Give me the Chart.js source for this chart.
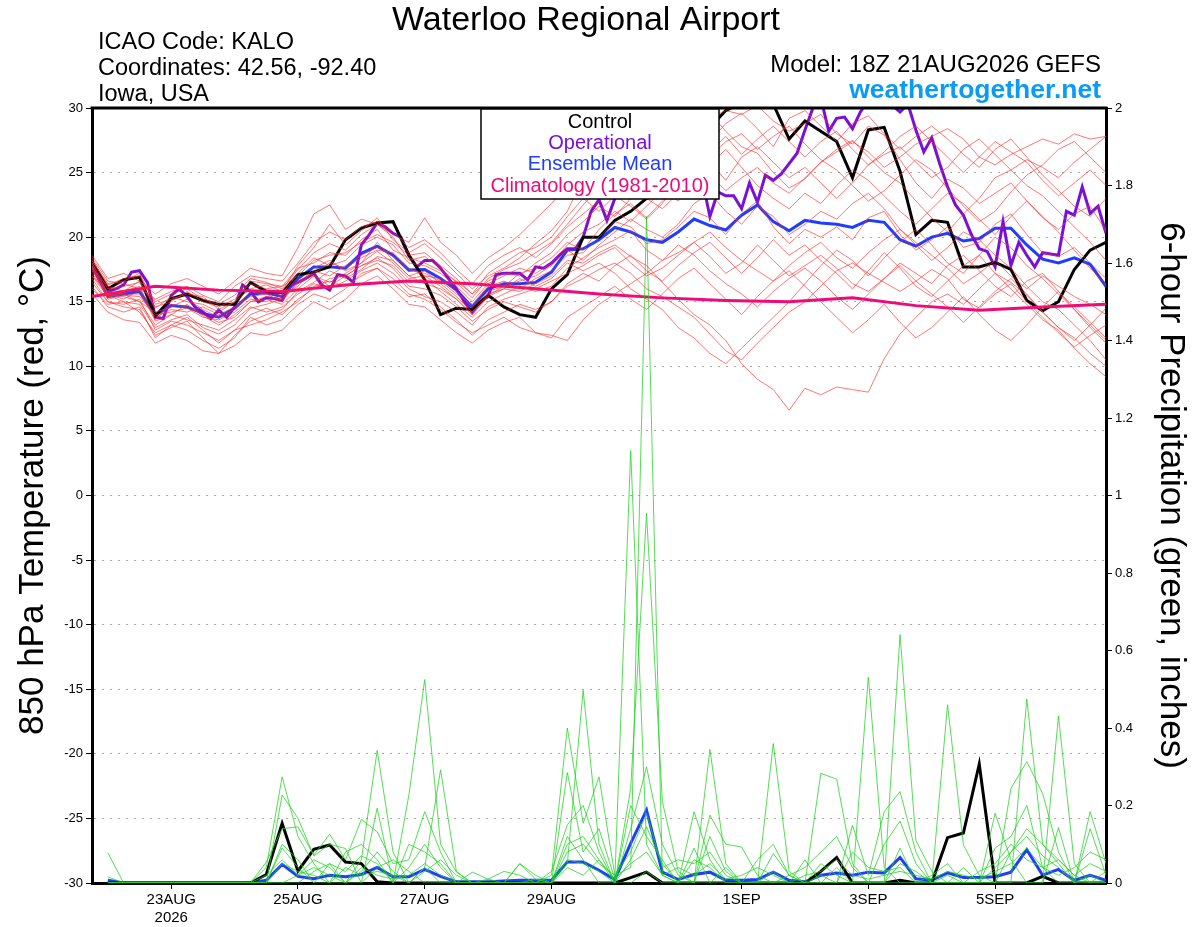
<!DOCTYPE html>
<html lang="en">
<head>
<meta charset="UTF-8"/>
<title>Waterloo Regional Airport</title>
<script src="https://cdn.jsdelivr.net/npm/chart.js"></script>
<style>
  html, body { margin: 0; padding: 0; background: #fff; overflow: hidden; }
  canvas { display: block; }
</style>
</head>
<body>
<canvas id="plume" width="1200" height="927"></canvas>
<script>
// forecast hours after 18Z 21AUG2026 (6-hourly ensemble output)
const hours = [0,6,12,18,24,30,36,42,48,54,60,66,72,78,84,90,96,102,108,114,120,126,132,138,144,
  150,156,162,168,174,180,186,192,198,204,210,216,222,228,234,240,246,252,258,264,270,276,282,288,
  294,300,306,312,318,324,330,336,342,348,354,360,366,372,378,384];

const tickHours = [30, 78, 126, 174, 246, 294, 342];
const tickLabels = [['23AUG', '2026'], '25AUG', '27AUG', '29AUG', '1SEP', '3SEP', '5SEP'];

// 850 hPa temperature, ensemble members (deg C)
const memberTemps = [
  [18.2,16.3,16.8,17.0,15.0,15.6,16.0,15.2,14.8,15.5,16.8,16.5,16.0,
   17.5,18.8,19.5,19.0,20.2,21.0,20.0,18.2,18.5,17.6,16.5,15.3,
   16.8,17.5,18.0,18.8,19.6,21.0,22.5,23.8,24.5,25.2,26.0,26.8,27.5,28.4,29.2,29.8,29.5,30.2,29.0,28.2,
   28.8,29.5,28.0,27.2,28.6,27.9,26.0,24.2,23.0,24.5,23.8,22.6,23.4,24.2,22.8,21.5,20.6,21.8,22.4,20.5],
  [16.5,15.0,14.8,15.2,12.8,13.5,13.2,12.6,12.0,12.8,14.0,14.5,14.0,
   15.2,16.0,16.8,17.0,17.8,18.4,17.6,16.2,16.0,15.5,14.6,13.5,
   14.4,15.0,14.6,14.2,15.0,16.2,16.8,17.5,18.0,17.2,16.0,15.4,14.6,13.8,12.5,11.2,10.5,11.8,13.0,14.2,
   15.0,16.2,17.4,18.0,17.2,16.5,15.8,16.6,17.5,16.8,15.2,14.5,15.6,16.4,15.0,13.8,12.6,11.5,12.4,13.2],
  [17.4,15.6,15.2,15.9,13.5,14.0,14.8,13.9,13.2,14.0,15.0,15.2,14.8,
   16.0,17.0,16.5,17.2,18.0,18.9,18.0,16.8,17.0,16.2,15.2,14.0,
   15.4,16.0,15.8,16.4,17.0,18.2,18.0,18.8,19.4,18.5,17.8,16.5,15.2,14.0,13.2,12.0,10.2,9.0,8.2,6.6,
   8.3,7.8,8.4,8.2,8.0,10.6,12.5,13.8,15.0,15.6,14.8,16.0,17.2,16.5,15.5,14.2,13.0,12.0,13.2,14.5],
  [18.0,16.0,16.2,16.5,14.5,15.4,15.0,14.8,14.2,15.0,16.0,16.3,15.8,
   17.8,19.2,21.0,19.4,20.5,21.5,19.8,18.8,19.5,18.4,17.2,16.0,
   17.0,17.6,18.4,19.5,20.5,22.0,24.6,23.5,24.8,25.5,24.0,25.8,27.0,28.8,29.6,28.2,27.0,26.5,25.0,23.8,
   24.5,25.8,26.8,27.5,26.2,25.0,24.2,22.8,21.5,20.4,21.8,23.0,24.6,25.2,24.0,23.2,22.0,20.8,19.6,18.2],
  [17.6,15.2,15.5,15.4,14.0,14.2,14.5,13.8,13.6,14.2,15.2,15.0,15.5,
   16.2,17.4,17.0,17.8,18.6,19.2,18.5,17.5,17.2,16.6,15.6,14.8,
   16.2,16.6,16.0,16.8,17.4,18.6,18.8,20.0,21.2,20.8,19.5,19.8,20.8,22.0,21.5,20.2,21.8,22.8,20.8,19.5,
   20.6,20.0,20.8,19.8,21.5,22.0,20.2,19.0,19.8,20.8,19.2,19.6,21.0,21.8,20.2,18.8,18.5,19.2,18.0,16.8],
  [16.8,15.0,14.6,14.4,12.4,13.0,13.5,12.2,11.0,12.4,13.5,14.0,14.4,
   15.8,16.5,17.4,16.8,17.5,18.5,18.2,17.0,16.4,16.0,15.2,14.0,
   15.5,16.2,17.2,17.6,18.4,19.6,19.0,20.6,21.8,22.6,21.5,22.8,24.0,25.5,26.2,27.4,28.0,26.8,27.8,28.6,
   27.2,26.0,25.2,24.0,22.8,23.6,24.8,26.0,25.2,23.8,22.4,21.2,22.0,23.5,24.8,25.6,26.8,27.4,26.2,25.0],
  [17.2,15.5,15.0,14.8,13.0,13.6,14.0,13.0,12.5,13.2,14.5,14.8,15.2,
   16.5,17.0,16.2,17.0,17.8,18.2,17.8,16.5,16.8,15.8,14.8,13.8,
   15.0,15.6,16.2,15.8,16.2,17.6,18.4,19.2,19.8,20.5,19.0,18.2,18.8,19.6,18.5,17.2,18.0,19.4,18.2,17.0,
   17.8,18.6,17.6,16.4,15.8,16.8,18.0,17.2,16.4,17.8,18.6,17.4,16.2,15.4,16.6,17.2,15.8,14.6,13.4,12.2],
  [18.4,16.6,16.4,16.0,15.2,15.8,16.2,15.5,15.0,16.2,17.0,16.8,16.6,
   18.0,19.6,20.4,19.8,20.8,21.2,20.4,19.2,19.8,18.8,17.5,16.4,
   17.8,18.6,19.2,18.4,19.5,20.8,21.8,22.8,23.6,24.4,23.0,22.2,23.4,24.6,25.8,24.4,26.2,27.0,25.8,24.6,
   25.4,24.2,23.0,24.2,25.6,26.4,27.0,25.8,24.6,25.4,26.8,27.6,26.4,25.2,26.0,25.4,24.6,25.8,26.8,27.8],
  [17.0,15.8,15.6,15.6,13.8,14.4,14.2,14.6,14.0,14.6,15.4,15.6,15.0,
   16.6,17.2,18.0,17.6,18.4,19.0,18.8,17.6,17.0,16.8,15.8,14.6,
   15.8,16.2,16.6,17.0,17.8,19.0,18.2,19.4,20.4,21.4,20.6,20.0,21.0,22.6,23.4,22.0,21.0,22.4,21.6,20.2,
   21.0,22.0,21.4,22.6,23.4,22.2,20.6,19.4,18.2,19.2,20.4,19.8,18.6,17.6,16.2,15.0,14.4,13.2,12.0,10.5],
  [17.8,15.3,15.8,16.2,13.6,14.8,14.6,14.0,13.4,13.8,15.0,15.4,15.2,
   16.4,17.6,18.2,17.4,18.0,19.6,18.2,17.0,17.4,16.4,15.4,14.2,
   15.6,16.0,16.8,16.2,16.8,18.0,17.4,18.0,17.2,16.0,15.2,14.4,13.0,12.2,11.0,10.2,11.4,12.6,13.8,15.0,
   16.4,17.8,19.0,18.2,17.0,18.4,19.6,20.6,19.4,18.0,17.2,18.6,20.0,19.2,17.8,16.8,15.6,14.4,13.0,11.8],
  [18.0,15.6,15.4,15.0,14.2,14.6,15.2,14.4,13.8,14.4,15.8,15.6,15.6,
   17.2,18.4,17.8,18.2,19.4,20.0,19.4,18.0,17.8,17.2,16.2,15.0,
   16.4,17.0,17.6,17.2,18.0,19.4,20.4,21.0,22.0,21.2,22.4,23.6,22.8,24.0,24.8,23.6,24.6,25.4,24.2,23.4,
   24.6,25.8,26.6,27.4,26.6,25.4,26.2,27.2,27.8,28.4,27.6,26.2,25.6,26.4,27.0,27.6,27.2,28.0,27.6,27.8],
  [16.2,14.6,14.2,14.6,12.2,13.2,12.8,12.0,11.4,12.2,13.8,13.2,13.6,
   14.8,15.6,15.2,16.0,17.2,17.6,16.4,15.4,15.6,14.6,13.6,12.4,
   13.6,14.2,14.8,14.4,15.0,16.4,17.2,16.6,17.8,18.6,17.4,16.6,17.8,18.8,19.6,18.4,17.2,18.4,19.8,18.6,
   19.4,18.2,17.2,16.0,17.4,18.8,17.6,16.2,15.4,16.6,17.8,18.6,17.2,16.0,14.8,13.6,12.8,11.4,10.2,9.2],
  [18.6,16.8,17.2,16.6,15.6,16.4,16.8,16.2,15.6,16.6,17.6,17.2,17.0,
   19.2,21.8,22.5,20.6,21.4,21.0,20.2,19.6,21.5,19.6,18.6,17.2,
   18.4,19.2,20.2,21.4,22.6,24.0,25.0,24.2,25.8,26.8,27.6,28.4,27.2,26.0,27.4,28.8,29.6,28.4,27.0,29.2,
   29.8,28.6,27.4,28.8,29.4,28.0,26.8,27.8,28.6,27.6,26.4,25.4,26.8,27.6,26.2,24.8,23.6,22.4,21.6,23.0],
  [15.6,14.2,13.6,13.4,11.8,12.4,12.0,11.2,11.0,11.6,12.6,12.4,12.8,
   14.0,15.0,14.4,15.2,16.4,17.0,16.0,14.8,14.6,13.6,12.6,11.8,
   12.8,13.4,13.8,12.6,12.2,13.8,14.6,15.4,16.2,15.2,14.4,15.6,16.8,17.6,16.4,15.2,14.0,15.4,16.6,17.4,
   16.2,15.0,13.8,12.6,13.6,14.8,13.4,12.2,13.0,14.2,15.4,14.0,12.8,12.0,13.2,14.6,15.8,14.4,13.2,12.0],
  [17.6,16.2,15.8,16.6,14.6,15.0,15.8,15.0,14.6,15.2,16.4,16.0,16.2,
   17.6,18.0,18.8,18.6,19.8,20.6,19.0,18.4,18.0,17.4,16.6,15.6,
   16.6,17.2,17.0,18.0,18.8,20.2,21.2,22.4,21.6,23.0,24.2,23.4,25.2,26.4,25.6,26.8,25.4,24.0,23.0,22.2,
   23.4,22.6,24.0,25.2,24.4,23.2,22.0,21.0,22.2,23.4,22.6,21.4,20.2,21.6,22.8,21.6,20.4,19.0,17.6,16.4],
  [17.0,15.4,15.6,15.0,13.2,14.0,13.6,13.2,12.8,13.6,14.6,14.2,14.6,
   15.6,16.4,16.0,16.6,17.4,18.0,17.2,16.0,15.4,15.0,14.2,13.2,
   14.6,15.2,15.6,16.0,16.6,17.2,17.8,18.6,19.2,18.0,17.0,17.6,18.6,19.6,20.4,19.2,18.2,17.4,16.6,17.8,
   18.8,19.6,18.4,17.6,18.8,19.8,20.6,19.6,18.6,17.6,16.4,17.2,18.2,17.0,16.0,17.0,16.2,15.4,14.8,14.0],
  [18.2,16.4,16.6,17.2,14.8,15.2,15.6,15.4,14.4,15.0,16.6,16.4,16.2,
   17.0,18.2,18.6,18.8,19.6,20.2,19.6,18.6,18.8,17.8,16.8,15.6,
   17.2,18.0,18.8,19.2,20.0,21.6,23.0,22.0,23.2,22.4,21.4,22.6,24.4,25.0,26.6,27.8,26.4,27.6,28.6,27.4,
   26.2,27.4,28.2,26.8,25.6,26.6,27.8,28.6,27.4,26.2,25.0,26.2,27.4,26.6,25.8,24.4,23.2,24.2,25.2,24.0],
  [16.0,14.8,15.0,14.2,12.6,13.2,13.8,12.8,11.8,12.8,13.2,13.6,14.2,
   15.0,16.2,16.6,16.2,17.0,17.6,16.8,15.6,15.2,14.4,13.4,12.6,
   13.2,13.8,13.0,12.6,12.4,12.0,13.6,14.8,15.6,16.4,17.2,18.2,19.4,18.6,17.4,16.4,15.6,14.6,15.8,16.8,
   17.6,16.6,15.4,14.4,15.6,16.8,17.8,16.6,15.6,14.6,13.4,14.6,15.8,16.8,15.6,14.2,13.0,12.2,11.0,10.0]
];

// 6-hour precipitation, ensemble members (inches); no value at hour 0
const memberPrecip = [
  [null,0.078,0,0,0,0,0,0,0,0, 0,0.04,0.274,0.12,0.05,0,0,0.06,0.342,0.08,
   0,0.04,0.292,0.03,0,0,0,0,0,0, 0.05,0.497,0.1,0,0,0.03,0,0,0,0.345,
   0.05,0,0,0,0,0,0.02,0,0,0.531, 0.04,0,0,0,0,0,0,0,0,0.475, 0.1,0.05,0,0,0],
  [null,0.016,0,0,0,0,0,0,0,0, 0,0,0.227,0.167,0.07,0.1,0.089,0,0.193,0,
   0.227,0.525,0.1,0.028,0,0,0,0,0,0.02, 0.40,0.154,0.274,0.02,0.04,1.72,0.02,0,0,0,
   0,0,0,0.36,0.03,0,0,0,0,0, 0,0.641,0.11,0.03,0,0,0,0,0,0, 0,0.431,0.05,0,0],
  [null,0,0,0,0,0,0,0,0,0, 0,0.054,0.14,0.145,0.072,0.126,0.06,0.164,0.132,0.05,
   0.06,0.184,0.08,0,0,0,0,0,0,0, 0.285,0.08,0.14,0.01,1.116,0.1,0.02,0,0.184,0.06,
   0,0,0,0,0,0,0.283,0.268,0.05,0, 0,0,0,0,0.46,0.098,0.02,0,0.244,0.313, 0.231,0.08,0,0,0],
  [null,0,0,0,0,0,0,0,0,0, 0,0,0.09,0.04,0,0.05,0.03,0.07,0.05,0,
   0.1,0.08,0.05,0,0,0,0,0.05,0.01,0, 0.1,0.12,0.06,0,0.244,0.954,0.21,0.03,0,0.175,
   0.1,0.093,0.02,0,0,0.06,0,0,0.149,0.02, 0.184,0.236,0.08,0,0,0,0,0.18,0.06,0, 0,0.143,0,0.184,0.05],
  [null,0,0,0,0,0,0,0,0,0, 0,0,0.05,0.03,0.02,0,0.04,0.02,0.03,0.02,
   0,0.04,0,0,0.028,0.01,0,0.05,0.02,0, 0.06,0.05,0.03,0,0.06,0.145,0.05,0,0.06,0.04,
   0,0,0,0.076,0.02,0,0,0.04,0,0, 0.1,0.16,0.05,0,0,0.04,0,0.09,0.12,0.2, 0.04,0,0,0.14,0.02],
  [null,0,0,0,0,0,0,0,0,0, 0,0,0,0.02,0.06,0.04,0,0.03,0.08,0.03,
   0,0.03,0.06,0.02,0,0,0,0,0,0.03, 0.15,0.2,0.08,0,0.14,0.3,0.1,0.02,0,0.12,
   0.03,0,0,0,0.02,0.04,0.08,0.12,0.04,0, 0,0.09,0,0.02,0.05,0,0,0,0.08,0.14, 0.1,0.06,0.02,0,0.03],
  [null,0,0,0,0,0,0,0,0,0, 0,0,0.1,0.06,0,0,0.08,0.1,0.06,0,
   0.04,0.1,0.04,0,0,0,0,0,0,0, 0.12,0.06,0,0,0.2,0.12,0.06,0,0.09,0,
   0.04,0,0.06,0.1,0.02,0,0,0,0.08,0.04, 0.03,0.04,0,0,0.02,0,0.03,0.05,0.1,0.06, 0.04,0.02,0.04,0.08,0.06],
  [null,0,0,0,0,0,0,0,0,0, 0,0,0,0,0.03,0.05,0,0,0.04,0.06,
   0.03,0,0,0,0,0.01,0.03,0.02,0,0, 0.08,0.1,0.05,0.02,0.08,0.18,0.04,0.06,0.05,0.08,
   0.02,0,0,0.03,0,0,0.05,0.02,0,0, 0,0.05,0.03,0,0,0,0,0.04,0.08,0.12, 0.07,0.04,0,0.02,0],
  [null,0,0,0,0,0,0,0,0,0, 0,0.02,0.06,0.02,0.04,0.02,0,0.04,0.02,0.01,
   0.02,0.05,0.02,0,0,0,0,0,0.01,0, 0.04,0.02,0.06,0.01,0.05,0.08,0.02,0.04,0.02,0.05,
   0.01,0.02,0.04,0.02,0,0.02,0.03,0.06,0.02,0.01, 0.02,0.03,0.02,0.01,0.03,0.02,0.01,0.03,0.05,0.09, 0.04,0.06,0.02,0.05,0.03]
];

// control run
const controlTemp = [18.1,16.0,16.7,16.9,13.9,15.25,15.6,15.1,14.8,14.8,16.5,15.8,15.7,17.1,17.3,17.7,
  19.8,20.7,21.1,21.2,18.6,16.7,14.0,14.5,14.4,15.5,14.6,14.0,13.8,16.0,17.1,20.0,20.0,21.3,22.0,23.0,
  24.0,25.0,26.5,28.5,29.8,30.4,30.8,30.3,27.6,29.0,28.2,27.4,24.6,28.3,28.5,25.1,20.2,21.3,21.15,17.7,
  17.7,18.05,17.5,15.1,14.3,15.0,17.5,19.0,19.6];
const controlPrecip = [null,0,0,0,0,0,0,0,0,0, 0,0.022,0.154,0.031,0.087,0.098,0.054,0.05,0.003,0,
  0,0,0,0,0,0,0,0,0,0, 0,0,0,0,0.014,0.028,0,0,0,0,
  0,0,0,0,0,0,0.03,0.066,0,0, 0,0.007,0,0,0.117,0.129,0.307,0,0,0, 0.017,0,0,0,0];

// ensemble mean
const meanTemp = [17.8,15.4,15.6,15.8,14.0,14.7,14.6,14.1,13.8,14.5,15.6,15.7,15.4,16.8,17.7,17.7,17.6,
  18.75,19.3,18.6,17.45,17.5,16.8,15.9,14.6,16.0,16.4,16.4,16.5,17.3,19.0,19.1,19.8,20.75,20.4,19.8,19.6,
  20.4,21.4,20.9,20.55,21.7,22.5,21.2,20.5,21.3,21.1,21.0,20.75,21.3,21.15,19.8,19.3,20.0,20.3,19.7,19.9,
  20.7,20.7,19.4,18.3,18.0,18.4,17.9,16.2];
const meanPrecip = [null,0.007,0,0,0,0,0,0,0,0, 0,0.007,0.048,0.017,0.011,0.02,0.016,0.022,0.04,0.016,
  0.016,0.035,0.017,0.003,0.003,0.003,0.005,0.007,0.007,0.007, 0.054,0.054,0.033,0.009,0.102,0.188,0.028,0.009,0.022,0.028,
  0.007,0.007,0.009,0.028,0.007,0.003,0.02,0.026,0.02,0.028, 0.026,0.066,0.011,0.007,0.026,0.014,0.014,0.016,0.028,0.086,
  0.02,0.035,0.007,0.02,0.007];

// operational run (3-hourly)
const opHours = [0,3,6,9,12,15,18,21,24,27,30,33,36,39,42,45,48,51,54,57,60,63,66,69,72,75,78,81,84,87,
  90,93,96,99,102,105,108,111,114,117,120,123,126,129,132,135,138,141,144,147,150,153,156,159,162,165,
  168,171,174,177,180,183,186,189,192,195,198,201,204,207,210,213,216,219,222,225,228,231,234,237,240,
  243,246,249,252,255,258,261,264,267,270,273,276,279,282,285,288,291,294,297,300,303,306,309,312,315,
  318,321,324,327,330,333,336,339,342,345,348,351,354,357,360,363,366,369,372,375,378,381,384];
const opTemp = [17.9,16.6,15.8,16.0,16.3,17.3,17.4,16.5,13.8,13.7,15.5,16.0,15.4,14.6,14.2,13.7,14.35,
  13.8,14.6,16.3,15.8,15.0,15.3,15.25,15.1,16.3,16.5,16.8,17.2,16.3,15.9,17.1,17.0,16.5,19.4,20.2,21.1,
  20.8,20.3,20.0,18.6,17.7,18.2,18.2,17.6,16.8,16.0,15.0,14.2,15.0,15.4,17.1,17.2,17.2,17.2,16.7,17.7,
  17.6,18.0,18.6,19.1,19.1,20.0,22.0,22.9,21.3,23.0,24.2,24.8,25.3,24.6,25.5,25.2,24.8,25.6,24.9,24.4,
  24.5,21.6,23.5,23.2,23.2,22.2,24.2,22.7,24.8,24.4,24.9,25.7,26.5,28.3,30.0,30.8,28.2,29.2,29.3,28.4,
  29.7,30.6,31.0,30.8,30.2,29.7,30.3,28.3,26.6,27.7,25.7,23.9,22.5,21.7,20.2,19.1,18.9,17.7,21.2,17.8,
  19.6,18.6,17.7,18.8,18.7,18.6,22.0,21.7,23.9,21.85,22.4,20.3];

// climatology 1981-2010 (daily)
const climHours = [0,24,48,72,96,120,144,168,192,216,240,264,288,312,336,360,384];
const climTemp = [15.4,16.2,15.9,15.8,16.3,16.6,16.4,16.0,15.6,15.3,15.1,15.0,15.3,14.7,14.35,14.6,14.8];

const pts = (xs, ys) => ys.map((v, k) => ({x: xs[k], y: v}));

const datasets = [];
memberTemps.forEach(m => datasets.push({
  data: pts(hours, m), yAxisID: 'y', borderColor: 'rgba(255,45,45,0.72)', borderWidth: 0.9
}));
memberPrecip.forEach(m => datasets.push({
  data: pts(hours, m), yAxisID: 'y2', borderColor: 'rgba(30,210,30,0.85)', borderWidth: 0.9
}));
datasets.push({ data: pts(climHours, climTemp), yAxisID: 'y', borderColor: '#ee0a7a', borderWidth: 3 });
datasets.push({ data: pts(hours, controlTemp), yAxisID: 'y', borderColor: '#000', borderWidth: 3 });
datasets.push({ data: pts(hours, controlPrecip), yAxisID: 'y2', borderColor: '#000', borderWidth: 3 });
datasets.push({ data: pts(opHours, opTemp), yAxisID: 'y', borderColor: '#7a0fd8', borderWidth: 3 });
datasets.push({ data: pts(hours, meanTemp), yAxisID: 'y', borderColor: '#1f3dff', borderWidth: 3 });
datasets.push({ data: pts(hours, meanPrecip), yAxisID: 'y2', borderColor: '#1f3dff', borderWidth: 3 });

const FONT = '"Liberation Sans", Arial, sans-serif';

function put(ctx, s, x, y, size, color, align, bold) {
  ctx.font = (bold ? 'bold ' : '') + size + 'px ' + FONT;
  ctx.fillStyle = color;
  ctx.textAlign = align;
  ctx.textBaseline = 'alphabetic';
  ctx.fillText(s, x, y);
}

// header text, top frame and legend box
const decor = {
  id: 'decor',
  afterDraw(chart) {
    const {ctx, chartArea: a} = chart;
    ctx.save();
    ctx.strokeStyle = '#000';
    ctx.lineWidth = 3;
    ctx.beginPath();
    ctx.moveTo(a.left - 1.5, a.top);
    ctx.lineTo(a.right + 1.5, a.top);
    ctx.stroke();

    put(ctx, 'Waterloo Regional Airport', 586, 30, 34, '#000', 'center');
    put(ctx, 'ICAO Code: KALO', 98, 49, 23.5, '#000', 'left');
    put(ctx, 'Coordinates: 42.56, -92.40', 98, 75, 23.5, '#000', 'left');
    put(ctx, 'Iowa, USA', 98, 101, 23.5, '#000', 'left');
    put(ctx, 'Model: 18Z 21AUG2026 GEFS', 1101, 72, 24, '#000', 'right');
    put(ctx, 'weathertogether.net', 1101, 98, 26.5, '#0a9bf5', 'right', true);

    ctx.fillStyle = '#fff';
    ctx.fillRect(481, 109, 238, 90);
    ctx.lineWidth = 1.5;
    ctx.strokeRect(481, 109, 238, 90);
    put(ctx, 'Control', 600, 128, 20, '#000', 'center');
    put(ctx, 'Operational', 600, 149, 20, '#7a0fd8', 'center');
    put(ctx, 'Ensemble Mean', 600, 170, 20, '#1f3dff', 'center');
    put(ctx, 'Climatology (1981-2010)', 600, 192, 20, '#ee0a7a', 'center');
    ctx.restore();
  }
};

const labelAt = {};
tickHours.forEach((h, k) => { labelAt[h] = tickLabels[k]; });

new Chart(document.getElementById('plume'), {
  type: 'line',
  data: { datasets },
  plugins: [decor],
  options: {
    responsive: false,
    animation: false,
    devicePixelRatio: 1,
    layout: { padding: { top: 108, left: 0, right: 0, bottom: 0 } },
    elements: { point: { radius: 0 }, line: { tension: 0 } },
    plugins: { legend: { display: false }, tooltip: { enabled: false } },
    scales: {
      x: {
        type: 'linear', min: 0, max: 384,
        afterBuildTicks: s => { s.ticks = tickHours.map(v => ({ value: v })); },
        afterFit: s => { s.height = 44; },
        ticks: {
          autoSkip: false, maxRotation: 0, padding: 2, color: '#000',
          font: { family: FONT, size: 15 },
          callback: v => labelAt[v]
        },
        grid: { drawOnChartArea: false, drawTicks: true, tickLength: 6, tickColor: '#000' },
        border: { color: '#000', width: 3 }
      },
      y: {
        position: 'left', min: -30, max: 30,
        afterFit: s => { s.width = 92; },
        ticks: { stepSize: 5, padding: 3, color: '#000', font: { family: FONT, size: 13 } },
        grid: {
          color: '#aaa', lineWidth: 1, tickColor: '#000', tickLength: 6, tickBorderDash: []
        },
        border: { color: '#000', width: 3, dash: [2, 6] },
        title: {
          display: true, text: '850 hPa Temperature (red, \u00B0C)', color: '#000',
          font: { family: FONT, size: 35 }, padding: { top: 12, bottom: 0 }
        }
      },
      y2: {
        position: 'right', min: 0, max: 2,
        afterFit: s => { s.width = 94; },
        ticks: {
          stepSize: 0.2, padding: 3, color: '#000', font: { family: FONT, size: 13 },
          callback: v => String(Math.round(v * 10) / 10)
        },
        grid: { drawOnChartArea: false, tickColor: '#000', tickLength: 6 },
        border: { color: '#000', width: 3 },
        title: {
          display: true, text: '6-hour Precipitation (green, inches)', color: '#000',
          font: { family: FONT, size: 35 }, padding: { top: 8, bottom: 0 }
        }
      }
    }
  }
});
</script>
</body>
</html>
